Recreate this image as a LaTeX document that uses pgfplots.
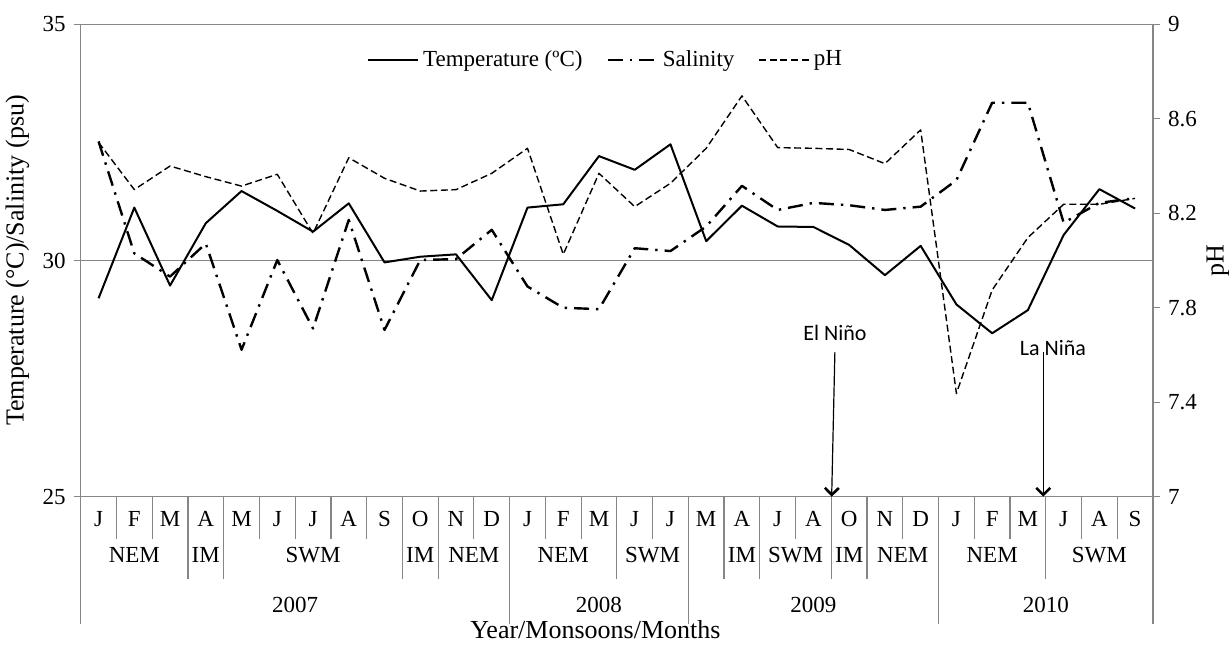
\documentclass[border=0pt]{standalone}
\usepackage{pgfplots}
\pgfplotsset{compat=1.18}
\usepackage{pgfplotstable}
\usepackage{fontspec}
\setmainfont{Liberation Serif}
\newfontfamily\calibri{Carlito}
\usetikzlibrary{arrows.meta}
\definecolor{axgray}{RGB}{134,134,134}

\pgfplotstableread{
i T S pH
0 29.20 32.52 8.500
1 31.12 30.15 8.300
2 29.47 29.66 8.400
3 30.79 30.36 8.355
4 31.47 28.11 8.315
5 31.05 30.01 8.365
6 30.61 28.56 8.115
7 31.21 30.86 8.435
8 29.96 28.53 8.348
9 30.08 30.01 8.294
10 30.13 30.03 8.300
11 29.16 30.65 8.369
12 31.12 29.45 8.475
13 31.19 29.00 8.026
14 32.21 28.97 8.369
15 31.92 30.26 8.228
16 32.46 30.20 8.327
17 30.41 30.72 8.475
18 31.16 31.58 8.697
19 30.72 31.07 8.478
20 30.71 31.22 8.475
21 30.33 31.17 8.470
22 29.69 31.07 8.410
23 30.31 31.14 8.553
24 29.07 31.70 7.437
25 28.46 33.34 7.875
26 28.95 33.34 8.097
27 30.54 30.80 8.238
28 31.51 31.22 8.238
29 31.10 31.32 8.263
}\data

\tikzset{
  tempstyle/.style={black, line width=1pt, line join=round},
  salstyle/.style={black, line width=1.2pt, line join=round, dash pattern=on 7.5pt off 3.5pt on 1.2pt off 3.5pt},
  phstyle/.style={black, line width=0.7pt, line join=round, dash pattern=on 3.5pt off 1.8pt},
  sep/.style={axgray, line width=0.6pt},
}

\begin{document}
\fontsize{11.5}{14}\selectfont
\begin{tikzpicture}
\useasboundingbox (-40.35pt,-73.65pt) rectangle (575.65pt,248.35pt);
\begin{axis}[
  at={(0,0)}, anchor=south west,
  scale only axis, width=536.15pt, height=236.2pt,
  xmin=0, xmax=30, ymin=25, ymax=35,
  axis x line*=bottom, axis y line*=left,
  xtick=\empty,
  ytick={25,30,35},
  tick align=outside, major tick length=3.5pt,
  tick style={axgray, line width=0.6pt},
  axis line style={axgray, line width=0.6pt, -},
  /pgf/number format/assume math mode=true,
  yticklabel style={black},
  clip=false,
  ylabel={Temperature (°C)/Salinity (psu)},
  every axis y label/.style={at={(axis description cs:-0.059,0.5)}, rotate=90, anchor=center, font=\fontsize{13}{16}\selectfont},
]
\draw[sep] (axis cs:0,30) -- (axis cs:30,30);
\draw[sep] (axis cs:0,35) -- (axis cs:30,35);
\addplot[tempstyle] table[x expr=\thisrow{i}+0.5, y=T]{\data};
\addplot[salstyle] table[x expr=\thisrow{i}+0.5, y=S]{\data};

% month separators
\pgfplotsinvokeforeach{1,2,5,6,7,8,11,13,14,16,20,23,25,26,28,29}{\draw[sep] (axis cs:#1,25) -- ++(0pt,-21pt);}
% monsoon separators
\pgfplotsinvokeforeach{3,4,9,10,15,18,19,21,22,27}{\draw[sep] (axis cs:#1,25) -- ++(0pt,-41pt);}
% year separators
\pgfplotsinvokeforeach{0,12,17,24,30}{\draw[sep] (axis cs:#1,25) -- ++(0pt,-63.5pt);}

% month labels
\node at (axis cs:0.5,25) [yshift=-11pt] {J};
\node at (axis cs:1.5,25) [yshift=-11pt] {F};
\node at (axis cs:2.5,25) [yshift=-11pt] {M};
\node at (axis cs:3.5,25) [yshift=-11pt] {A};
\node at (axis cs:4.5,25) [yshift=-11pt] {M};
\node at (axis cs:5.5,25) [yshift=-11pt] {J};
\node at (axis cs:6.5,25) [yshift=-11pt] {J};
\node at (axis cs:7.5,25) [yshift=-11pt] {A};
\node at (axis cs:8.5,25) [yshift=-11pt] {S};
\node at (axis cs:9.5,25) [yshift=-11pt] {O};
\node at (axis cs:10.5,25) [yshift=-11pt] {N};
\node at (axis cs:11.5,25) [yshift=-11pt] {D};
\node at (axis cs:12.5,25) [yshift=-11pt] {J};
\node at (axis cs:13.5,25) [yshift=-11pt] {F};
\node at (axis cs:14.5,25) [yshift=-11pt] {M};
\node at (axis cs:15.5,25) [yshift=-11pt] {J};
\node at (axis cs:16.5,25) [yshift=-11pt] {J};
\node at (axis cs:17.5,25) [yshift=-11pt] {M};
\node at (axis cs:18.5,25) [yshift=-11pt] {A};
\node at (axis cs:19.5,25) [yshift=-11pt] {J};
\node at (axis cs:20.5,25) [yshift=-11pt] {A};
\node at (axis cs:21.5,25) [yshift=-11pt] {O};
\node at (axis cs:22.5,25) [yshift=-11pt] {N};
\node at (axis cs:23.5,25) [yshift=-11pt] {D};
\node at (axis cs:24.5,25) [yshift=-11pt] {J};
\node at (axis cs:25.5,25) [yshift=-11pt] {F};
\node at (axis cs:26.5,25) [yshift=-11pt] {M};
\node at (axis cs:27.5,25) [yshift=-11pt] {J};
\node at (axis cs:28.5,25) [yshift=-11pt] {A};
\node at (axis cs:29.5,25) [yshift=-11pt] {S};

% monsoon labels
\node at (axis cs:1.5,25) [yshift=-29pt] {NEM};
\node at (axis cs:3.5,25) [yshift=-29pt] {IM};
\node at (axis cs:6.5,25) [yshift=-29pt] {SWM};
\node at (axis cs:9.5,25) [yshift=-29pt] {IM};
\node at (axis cs:11,25) [yshift=-29pt] {NEM};
\node at (axis cs:13.5,25) [yshift=-29pt] {NEM};
\node at (axis cs:16,25) [yshift=-29pt] {SWM};
\node at (axis cs:18.5,25) [yshift=-29pt] {IM};
\node at (axis cs:20,25) [yshift=-29pt] {SWM};
\node at (axis cs:21.5,25) [yshift=-29pt] {IM};
\node at (axis cs:23,25) [yshift=-29pt] {NEM};
\node at (axis cs:25.5,25) [yshift=-29pt] {NEM};
\node at (axis cs:28.5,25) [yshift=-29pt] {SWM};

% year labels
\node at (axis cs:6,25) [yshift=-54pt] {2007};
\node at (axis cs:14.5,25) [yshift=-54pt] {2008};
\node at (axis cs:20.5,25) [yshift=-54pt] {2009};
\node at (axis cs:27,25) [yshift=-54pt] {2010};

% x title
\node[font=\fontsize{13}{15}\selectfont, inner sep=0pt] at (axis cs:14.4,25) [yshift=-66.5pt] {Year/Monsoons/Months};

% annotations
\node[font=\calibri\fontsize{11}{13}\selectfont] at (axis cs:21.1,28.47) {El Niño};
\draw[black, line width=0.6pt, -{Straight Barb[length=3.5pt,width=7pt,line width=1.3pt]}] (axis cs:21.1,28.06) -- (axis cs:21.01,25);
\node[font=\calibri\fontsize{11}{13}\selectfont] at (axis cs:27.2,28.15) {La Niña};
\draw[black, line width=0.6pt, -{Straight Barb[length=3.5pt,width=7pt,line width=1.3pt]}] (axis cs:26.93,28.06) -- (axis cs:26.93,25);
\end{axis}

\begin{axis}[
  at={(0,0)}, anchor=south west,
  scale only axis, width=536.15pt, height=236.2pt,
  xmin=0, xmax=30, ymin=7, ymax=9,
  axis x line=none, axis y line*=right,
  ytick={7,7.4,7.8,8.2,8.6,9},
  tick align=outside, major tick length=3.5pt,
  tick style={axgray, line width=0.6pt},
  axis line style={axgray, line width=0.6pt, -},
  /pgf/number format/assume math mode=true,
  yticklabel style={black},
  ylabel={pH},
  every axis y label/.style={at={(axis description cs:1.0606,0.5)}, rotate=90, anchor=center, font=\fontsize{13}{16}\selectfont},
  legend style={at={(0.2667,0.9245)}, anchor=west, draw=none, fill=none,
    legend columns=-1, inner xsep=0pt,
    /tikz/every even column/.append style={column sep=10pt}},
  legend image code/.code={\draw[#1] (0pt,0pt) -- (25pt,0pt);},
]
\addlegendimage{tempstyle}
\addlegendentry{Temperature (ºC)}
\addlegendimage{salstyle}
\addlegendentry{Salinity}
\addplot[phstyle] table[x expr=\thisrow{i}+0.5, y=pH]{\data};
\addlegendentry{pH}
\end{axis}
\end{tikzpicture}
\end{document}
